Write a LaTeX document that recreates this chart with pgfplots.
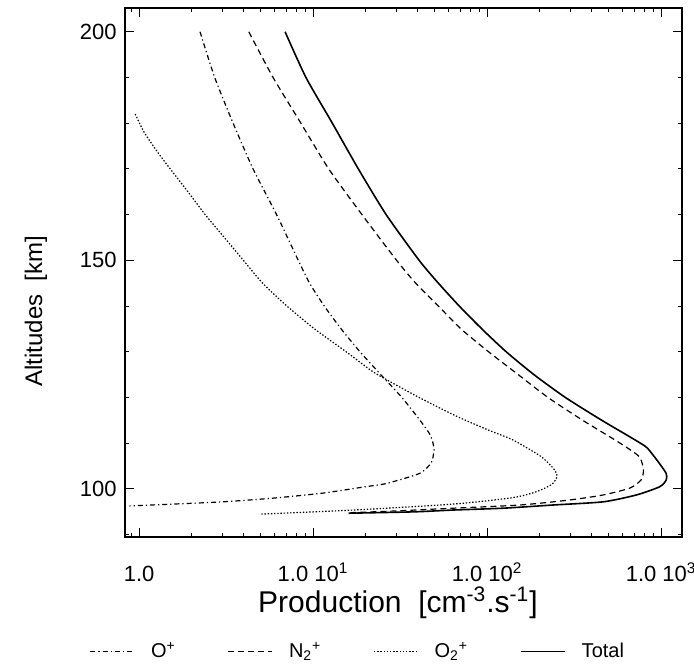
\documentclass[border=0pt]{standalone}
\usepackage{fontspec}
\setmainfont{Liberation Sans}
\usepackage{pgfplots}
\pgfplotsset{compat=1.18}

% production profiles: altitude [km] vs production [cm^-3 s^-1]
\pgfplotstableread{
alt    p
200    2.24
190    2.72
180    3.47
170    4.52
160    6.17
150    8.22
145    9.55
140    11.6
135    14.5
130    18.6
125    24.5
120    32.4
115    41.2
112    46.8
110    48.9
108.5  49.5
107    48.9
105.6  47.5
103.4  40.9
101.2  26.4
100.5  20.0
99.1   11.4
98.0   5.9
97.2   3.05
96.7   1.57
96.3   0.88
}\Oplus

\pgfplotstableread{
alt    p
200    4.27
190    5.89
180    8.51
170    12.3
160    19.1
150    30.2
145    38.9
140    52.5
135    70.8
130    102
125    151
120    224
115    355
110.2  571
107.1  747
104.2  791
102.0  768
100.2  661
98.7   465
97.6   299
96.5   155
95.8   64
95.2   30
94.8   16
}\Ntwo

\pgfplotstableread{
alt    p
182    0.95
178    1.07
174    1.26
170    1.51
165    1.91
160    2.40
155    3.09
150    3.98
145    5.13
140    7.08
135    10.2
130    15.5
126    21.4
124.2  25.6
120.2  39.8
116    66
113    100
110.7  141
107.1  204
104.2  244
102.7  252
101.0  235
99.4   192
98.1   140
96.7   64
95.4   17.1
94.5   5.0
}\Otwo

\pgfplotstableread{
alt    p
200    6.9
190    9.1
180    12.9
170    18.2
160    26.3
150    40.7
145    52.5
140    69.2
135    93.3
130    128.8
125    186
120    282
115    457
112    622
109.3  813
107.5  895
105.6  977
103.4  1069
102.0  1070
100.5  982
98.7   722
97.2   466
96.5   240
95.8   124
95.4   64
95.0   38
94.7   16
}\Total

\begin{document}
\begin{tikzpicture}
\begin{axis}[
    name=main,
    scale only axis,
    width=278.5pt, height=264.5pt,
    xmode=log,
    xmin=0.83, xmax=1318,
    ymin=89.5, ymax=205.2,
    xtick={1,10,100,1000},
    xticklabels={1.0, 1.0 10\textsuperscript{1}, 1.0 10\textsuperscript{2}, 1.0 10\textsuperscript{3}},
    minor xtick={0.9,2,3,4,5,6,7,8,9,20,30,40,50,60,70,80,90,200,300,400,500,600,700,800,900},
    ytick={100,150,200},
    yticklabels={100,150,200},
    minor ytick={90,110,120,130,140,160,170,180,190},
    tick align=inside,
    major tick length=4.5pt,
    minor tick length=2.2pt,
    tick style={black, line width=0.5pt},
    axis line style={line width=0.8pt},
    xticklabel style={font=\fontsize{11}{13}\selectfont, anchor=north,
        text height=8pt, text depth=0pt, inner sep=0pt, yshift=-14pt},
    yticklabel style={font=\fontsize{11}{13}\selectfont, anchor=east,
        inner sep=0pt, xshift=-4pt},
    xlabel={Production\ \ [cm\textsuperscript{-3}.s\textsuperscript{-1}]},
    xlabel style={font=\fontsize{15}{17}\selectfont,
        at={(axis description cs:0.49,-0.142)}, anchor=base},
    ylabel={Altitudes\ \ [km]},
    ylabel style={font=\fontsize{12}{14}\selectfont,
        at={(axis description cs:-0.16,0.427)}, anchor=center, rotate=0},
    legend columns=4,
    legend style={draw=none, fill=none, at={(0.42,-0.183)}, anchor=north,
        font=\fontsize{10}{12}\selectfont,
        /tikz/every odd column/.append style={column sep=6pt},
        /tikz/every even column/.append style={column sep=24pt}},
    legend image code/.code={\draw[#1] (0pt,0pt) -- (22pt,0pt);},
    every axis plot/.append style={black, smooth, tension=0.4},
]
\addplot [line width=0.6pt, dash pattern=on 2.5pt off 1.5pt on 0.6pt off 1.5pt]
    table [x=p, y=alt] {\Oplus};
\addlegendentry{O\textsuperscript{+}}
\addplot [line width=0.6pt, dash pattern=on 3pt off 2pt]
    table [x=p, y=alt] {\Ntwo};
\addlegendentry{N\textsubscript{2}\textsuperscript{+}}
\addplot [line width=0.6pt, dash pattern=on 0.7pt off 0.9pt]
    table [x=p, y=alt] {\Otwo};
\addlegendentry{O\textsubscript{2}\textsuperscript{+}}
\addplot [line width=0.8pt]
    table [x=p, y=alt] {\Total};
\addlegendentry{Total}
\end{axis}
\pgfresetboundingbox
\path[use as bounding box] ([shift={(-62.5pt,-64.5pt)}]main.south west)
    rectangle ([shift={(6pt,4pt)}]main.north east);
\end{tikzpicture}
\end{document}
